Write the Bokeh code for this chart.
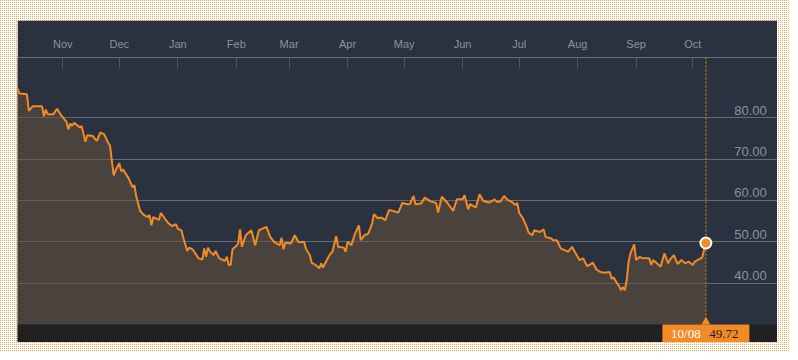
import pandas as pd
from bokeh.plotting import figure
from bokeh.models import Range1d, FixedTicker, DatetimeTickFormatter, Grid, Span, BoxAnnotation, Label
from bokeh.layouts import column
from bokeh.embed import file_html
from bokeh.resources import INLINE
from bokeh.core.properties import value

# ---------------- data ----------------
START = "2014-10-08"
days_seg1 = [0, 1, 5, 6, 8, 13, 14, 15, 16, 19, 21, 23, 26, 27, 28, 29, 30, 33, 34, 36, 37, 40, 42, 44, 46, 48,
             49, 51, 52, 54, 55, 56, 59, 61, 62, 63, 65]
vals_seg1 = [87.1, 85.9, 85.7, 81.7, 82.8, 82.8, 80.4, 82.0, 80.9, 80.9, 82.2, 80.7, 79.0, 77.2, 78.6, 78.1, 78.8,
             77.7, 78.0, 74.2, 75.8, 75.6, 74.4, 76.5, 76.0, 74.0, 73.4, 66.1, 67.3, 69.0, 67.1, 67.5, 65.3, 63.2,
             63.7, 60.9, 57.5]
days_seg2 = [67, 69, 70, 71, 72, 75, 76, 78, 80, 82, 84, 85, 87, 88, 90, 91, 93, 96, 98, 99, 100, 101, 102, 104,
             105, 107, 109, 110, 111, 112, 113, 114, 116, 117, 118, 119, 121, 124, 126, 128, 129]
vals_seg2 = [56.5, 56.0, 56.5, 54.0, 56.0, 55.3, 57.0, 55.7, 54.5, 53.8, 54.3, 53.2, 52.7, 50.8, 47.8, 48.6, 48.1,
             46.0, 45.7, 48.4, 46.4, 48.6, 47.7, 46.8, 47.8, 46.0, 45.6, 45.4, 46.4, 44.4, 44.4, 48.2, 49.0, 49.6,
             53.0, 48.8, 51.6, 52.8, 49.2, 52.8, 53.0]
days_seg3 = [132, 134, 136, 139, 140, 141, 142, 145, 147, 149, 152, 153, 155, 156, 158, 160, 161, 162, 164, 166,
             167, 169, 170, 173, 174, 175, 177, 179, 181, 182, 184, 186, 188, 189, 191, 193]
vals_seg3 = [53.6, 51.2, 50.0, 49.2, 51.0, 48.2, 49.8, 49.6, 51.6, 49.9, 50.0, 48.2, 46.8, 44.9, 44.4, 43.6, 44.8,
             43.8, 45.6, 47.2, 47.6, 51.4, 48.8, 48.6, 47.6, 50.0, 49.2, 52.0, 54.0, 50.4, 51.6, 52.0, 54.4, 56.7,
             55.7, 55.9]
days_seg4 = [195, 197, 202, 204, 207, 208, 210, 211, 214, 216, 219, 222, 223, 225, 228, 231, 233, 236, 237, 239,
             240, 243, 245, 247, 250, 253, 254, 256]
vals_seg4 = [55.2, 57.7, 57.1, 59.4, 59.1, 59.1, 61.1, 59.1, 59.3, 60.7, 59.8, 59.4, 57.1, 60.9, 59.4, 57.5, 60.3,
             60.3, 61.3, 57.9, 59.1, 58.3, 61.5, 59.9, 59.5, 60.3, 59.7, 59.7]
days_seg5 = [258, 260, 262, 264, 265, 266, 268, 270, 271, 273, 274, 277, 279, 280, 283, 284, 286, 288, 291, 292,
             294, 296, 298, 300, 302, 304, 305, 307, 309, 311, 314, 315, 316, 318]
vals_seg5 = [61.1, 60.1, 59.7, 58.9, 59.4, 57.0, 55.7, 53.6, 52.2, 51.6, 52.8, 52.4, 53.0, 51.2, 50.8, 50.4, 50.4,
             48.4, 47.8, 47.6, 48.8, 47.2, 45.6, 46.0, 44.1, 44.6, 45.0, 43.3, 42.7, 42.5, 42.7, 41.1, 41.4, 39.9]
days_seg6 = [319, 320, 321, 322, 323, 324, 325, 327, 328, 330, 331, 335, 336, 337, 339, 341, 342, 343, 345, 346,
             348, 350, 352, 354, 356, 358, 359, 361, 363, 364, 365]
vals_seg6 = [39.3, 38.3, 39.1, 38.3, 40.7, 45.2, 47.2, 49.4, 45.6, 46.4, 46.1, 46.0, 44.4, 45.6, 44.8, 44.0, 45.6,
             47.2, 44.8, 45.7, 46.8, 44.6, 45.6, 44.8, 45.2, 44.4, 45.2, 45.7, 46.2, 48.0, 49.72]

month_starts = ["2014-11-01", "2014-12-01", "2015-01-01", "2015-02-01", "2015-03-01", "2015-04-01",
                "2015-05-01", "2015-06-01", "2015-07-01", "2015-08-01", "2015-09-01", "2015-10-01"]
y_ticks = [40, 50, 60, 70, 80]
y_tick_labels = ["40.00", "50.00", "60.00", "70.00", "80.00"]
BASE = 30  # bottom of the area fill

# ---------------- build ----------------
days = days_seg1 + days_seg2 + days_seg3 + days_seg4 + days_seg5 + days_seg6
vals = vals_seg1 + vals_seg2 + vals_seg3 + vals_seg4 + vals_seg5 + vals_seg6
start = pd.Timestamp(START)
dates = [(start + pd.Timedelta(days=d)).to_pydatetime() for d in days]
last_date = dates[-1]
last_ms = pd.Timestamp(last_date).value / 1e6

ORANGE = "#f28a25"
BG = "#29323e"
PX_DAY = 1.886      # pixels per day
PX_UNIT = 4.133     # pixels per value unit
W, H, TOP = 760, 322, 37
frame_h = H - TOP

x_end = (start + pd.Timedelta(days=W / PX_DAY)).to_pydatetime()
y0 = BASE - 18 / PX_UNIT
y1 = y0 + frame_h / PX_UNIT
strip_mid = (y0 + BASE) / 2

p = figure(width=W, height=H, x_axis_type="datetime", x_axis_location="above", y_axis_location=None,
           x_range=Range1d(start.to_pydatetime(), x_end), y_range=Range1d(y0, y1),
           output_backend="svg", toolbar_location=None,
           min_border_left=0, min_border_right=0, min_border_bottom=0, min_border_top=TOP,
           background_fill_color=BG, border_fill_color=BG, outline_line_color=None)

for g in p.xgrid + p.ygrid:
    g.visible = False
p.add_layout(Grid(dimension=1, ticker=FixedTicker(ticks=y_ticks), grid_line_color="#646a71",
                  grid_line_width=1, level="underlay"))

ax = p.xaxis[0]
ax.ticker = FixedTicker(ticks=[pd.Timestamp(m).value / 1e6 for m in month_starts])
ax.formatter = DatetimeTickFormatter(days="%b", months="%b", years="%b", hours="%b", minutes="%b")
ax.major_tick_in = 11
ax.major_tick_out = 0
ax.minor_tick_in = 0
ax.minor_tick_out = 0
ax.major_tick_line_color = "#4f565e"
ax.axis_line_color = "#6c7279"
ax.major_label_text_color = "#8c939b"
ax.major_label_text_font = "Liberation Sans"
ax.major_label_text_font_size = "11px"
ax.major_label_standoff = 8

# area + line
p.varea(x=dates, y1=BASE, y2=vals, fill_color="#6b523a", fill_alpha=0.5)
p.line(dates, vals, line_color=ORANGE, line_width=2)

# y value labels (inside the plot, right side)
xlab = (start + pd.Timedelta(days=(766.3 - 17) / PX_DAY)).to_pydatetime()
p.text(x=[xlab] * len(y_ticks), y=[t + 7.7 / PX_UNIT for t in y_ticks], text=y_tick_labels,
       text_align="right", text_baseline="alphabetic", text_font=value("Liberation Sans"),
       text_font_size="13px", text_color="#8c939b")

# bottom strip
p.add_layout(BoxAnnotation(top=BASE, fill_color="#212121", fill_alpha=1, line_color=None))

# crosshair
p.add_layout(Span(location=last_ms, dimension="height", line_color="#a97622",
                  line_dash="2 2", line_width=1.5))

# tooltip box
p.rect(x=[last_date], y=[strip_mid], width=87, height=18, width_units="screen",
       height_units="screen", fill_color=ORANGE, line_color=None, level="overlay")
p.scatter(x=[last_date], y=[BASE + 2.6 / PX_UNIT], marker="triangle", size=9,
          fill_color=ORANGE, line_color=None, level="overlay")
p.add_layout(Label(x=last_ms, y=strip_mid, x_offset=-20, text=last_date.strftime("%m/%d"),
                   text_align="center", text_baseline="middle", text_font="Liberation Serif",
                   text_font_size="13px", text_color="#ffffff", level="overlay"))
p.add_layout(Label(x=last_ms, y=strip_mid, x_offset=18, text=f"{vals[-1]:.2f}",
                   text_align="center", text_baseline="middle", text_font="Liberation Serif",
                   text_font_size="13px", text_color="#1e1e1e", level="overlay"))

# last point marker
p.scatter(x=[last_date], y=[vals[-1]], size=11, fill_color=ORANGE, line_color="#ffffff",
          line_width=2, level="overlay")

layout = column(p, styles={
    "margin": "-8px",
    "padding": "28px 13px 10px 25px",
    "background-color": "#f3a25a",
    "background-image": "linear-gradient(90deg, rgba(255,255,255,0) 1px, #ffffff 1px), "
                        "linear-gradient(rgba(255,255,255,0) 1px, #ffffff 1px)",
    "background-size": "2px 2px",
})

open("out.html", "w").write(file_html(layout, INLINE))
